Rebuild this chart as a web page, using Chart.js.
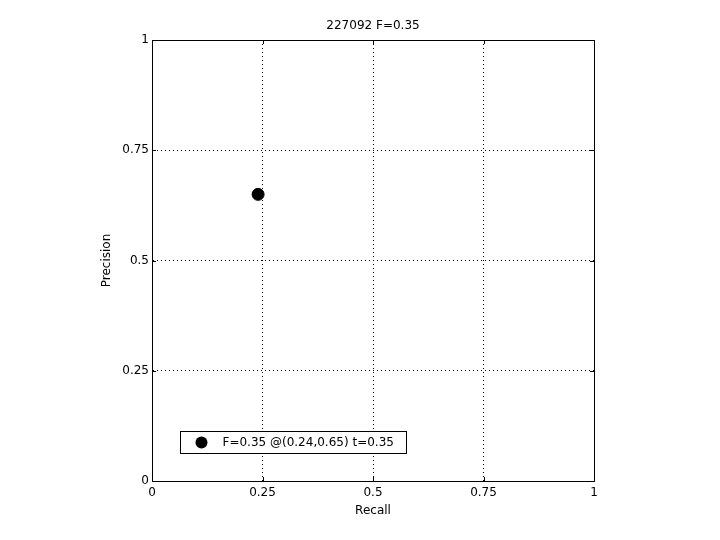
<!DOCTYPE html>
<html>
<head>
<meta charset="utf-8">
<script src="https://cdn.jsdelivr.net/npm/chart.js@4/dist/chart.umd.min.js"></script>
<style>
html,body{margin:0;padding:0;background:#fff;}
#wrap{width:720px;height:540px;}
</style>
</head>
<body>
<div id="wrap"><canvas id="c" width="720" height="540"></canvas></div>
<script>
const chartTitle = "227092 F=0.35";
const xLabel = "Recall";
const yLabel = "Precision";
const recallValues = [0.24];
const precisionValues = [0.65];
const seriesLabel = "F=0.35 @(0.24,0.65) t=0.35";
const tickValues = [0, 0.25, 0.5, 0.75, 1];
const tickLabels = ["0", "0.25", "0.5", "0.75", "1"];

const FONT = "'DejaVu Sans', sans-serif";

const points = recallValues.map((r, i) => ({x: r, y: precisionValues[i]}));

const boxPlugin = {
  id: 'boxPlugin',
  afterDraw(chart) {
    const ctx = chart.ctx;
    const a = chart.chartArea;
    ctx.save();
    ctx.strokeStyle = '#000';
    ctx.lineWidth = 1;
    ctx.setLineDash([]);
    ctx.strokeRect(Math.round(a.left) + 0.5, Math.round(a.top) + 0.5,
                   Math.round(a.right - a.left), Math.round(a.bottom - a.top));
    // inward tick marks
    const xs = chart.scales.x, ys = chart.scales.y;
    const tl = 4;
    ctx.beginPath();
    tickValues.forEach(v => {
      const px = Math.round(xs.getPixelForValue(v)) + 0.5;
      ctx.moveTo(px, a.bottom); ctx.lineTo(px, a.bottom - tl);
      ctx.moveTo(px, a.top); ctx.lineTo(px, a.top + tl);
      const py = Math.round(ys.getPixelForValue(v)) + 0.5;
      ctx.moveTo(a.left, py); ctx.lineTo(a.left + tl, py);
      ctx.moveTo(a.right, py); ctx.lineTo(a.right - tl, py);
    });
    ctx.stroke();
    // legend box
    const lx = xs.getPixelForValue(0.0625), ly = ys.getPixelForValue(0.11);
    const bx = 180.5, by = 431.5, bw = 226, bh = 22;
    ctx.fillStyle = '#fff';
    ctx.fillRect(bx, by, bw, bh);
    ctx.strokeRect(bx, by, bw, bh);
    ctx.fillStyle = '#000';
    ctx.beginPath();
    ctx.arc(bx + 21, by + 11, 6, 0, Math.PI * 2);
    ctx.fill();
    ctx.font = '12px ' + FONT;
    ctx.textBaseline = 'middle';
    ctx.textAlign = 'left';
    ctx.fillText(chart.data.datasets[0].label, bx + 42, by + 11.5);
    ctx.restore();
  }
};

new Chart(document.getElementById('c'), {
  type: 'scatter',
  data: {
    datasets: [{
      label: seriesLabel,
      data: points,
      backgroundColor: '#000',
      borderColor: '#000',
      pointRadius: 6,
      pointHoverRadius: 6,
      showLine: false
    }]
  },
  options: {
    responsive: false,
    animation: false,
    events: [],
    layout: { padding: { left: 100, right: 126, top: 0, bottom: 22 } },
    plugins: {
      legend: { display: false },
      tooltip: { enabled: false },
      title: {
        display: true,
        text: chartTitle,
        fullSize: false,
        color: '#000',
        font: { family: FONT, size: 12, weight: 'normal', lineHeight: 1.2 },
        padding: { top: 19, bottom: 6.6 }
      }
    },
    scales: {
      x: {
        type: 'linear',
        min: 0, max: 1,
        afterFit(s) { s.height = 37; },
        afterBuildTicks(s) { s.ticks = tickValues.map(v => ({value: v})); },
        ticks: {
          color: '#000',
          font: { family: FONT, size: 12 },
          padding: 5,
          maxRotation: 0,
          callback: (v) => tickLabels[tickValues.indexOf(v)]
        },
        grid: {
          color: (c) => (c.tick && (c.tick.value === 0 || c.tick.value === 1)) ? 'rgba(0,0,0,0)' : '#000',
          lineWidth: 1,
          drawTicks: false
        },
        border: { display: true, color: '#000', dash: [1, 3], width: 1 },
        title: {
          display: true, text: xLabel, color: '#000',
          font: { family: FONT, size: 12, lineHeight: 1.2 },
          padding: 0
        }
      },
      y: {
        type: 'linear',
        min: 0, max: 1,
        afterFit(s) { s.width = 52; },
        afterBuildTicks(s) { s.ticks = tickValues.map(v => ({value: v})); },
        ticks: {
          color: '#000',
          font: { family: FONT, size: 12 },
          padding: 3,
          callback: (v) => tickLabels[tickValues.indexOf(v)]
        },
        grid: {
          color: (c) => (c.tick && (c.tick.value === 0 || c.tick.value === 1)) ? 'rgba(0,0,0,0)' : '#000',
          lineWidth: 1,
          drawTicks: false
        },
        border: { display: true, color: '#000', dash: [1, 3], width: 1 },
        title: {
          display: true, text: yLabel, color: '#000',
          font: { family: FONT, size: 12, lineHeight: 1.2 },
          padding: 0
        }
      }
    }
  },
  plugins: [boxPlugin]
});
</script>
</body>
</html>
